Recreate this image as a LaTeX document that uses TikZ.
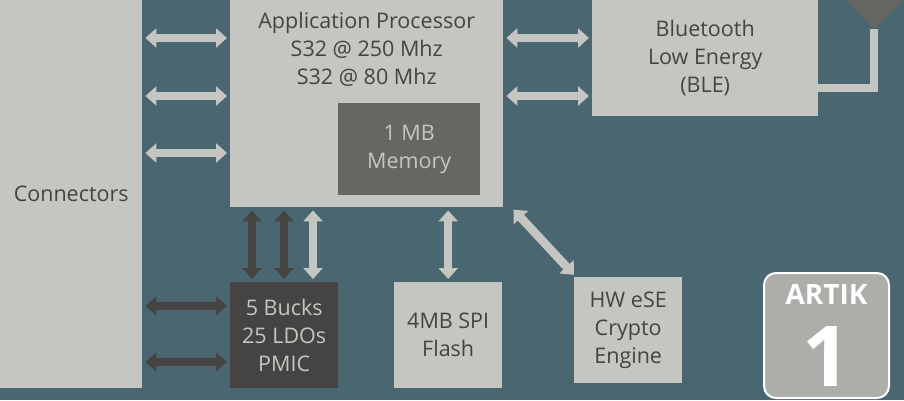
\documentclass[tikz,border=0pt]{standalone}
\usepackage{fontspec}
\setmainfont{Open Sans}
\usetikzlibrary{arrows.meta}
\definecolor{bgc}{HTML}{4A6670}
\definecolor{lgc}{HTML}{C5C5C1}
\definecolor{mgc}{HTML}{666663}
\definecolor{dgc}{HTML}{454443}
\definecolor{logoc}{HTML}{ADADA9}
\begin{document}
\begin{tikzpicture}[x=1pt, y=-1pt,
    box/.style = {fill=lgc, text=dgc, inner sep=0pt, align=center, anchor=north west, font=\fontsize{21.5}{28}\selectfont},
    dbox/.style = {box, fill=dgc, text=lgc},
    arr/.style = {{Triangle[width=19pt,length=11pt]}-{Triangle[width=19pt,length=11pt]}, line width=8.5pt, color=lgc, shorten <=3pt, shorten >=3pt},
    darr/.style = {arr, color=dgc}]
    \fill[bgc] (0,0) rectangle (904,400);
    \node[box, minimum width=142, minimum height=388] (conn) at (0,0) {Connectors};
    \node[box, minimum width=273, minimum height=207] (ap) at (230,0) {};
    \node[box, fill=none, anchor=north] (aptext) at ([yshift=-12]ap.north) {Application Processor\\S32 @ 250 Mhz\\S32 @ 80 Mhz};
    \node[box, fill=mgc, text=lgc, minimum width=142, minimum height=92] (mem) at (338,103) {1 MB\\Memory};
    \node[box, minimum width=226, minimum height=116] (ble) at (592,0) {Bluetooth\\Low Energy\\(BLE)};
    \node[dbox, minimum width=108, minimum height=106] (pmic) at (230,282) {5 Bucks\\25 LDOs\\PMIC};
    \node[box, minimum width=108, minimum height=106] (flash) at (394,282) {4MB SPI\\Flash};
    \node[box, minimum width=108, minimum height=106] (hse) at (574,277) {HW eSE\\Crypto\\Engine};
    % antenna
    \coordinate (ant) at (874,29);
    \draw[lgc, line width=8pt] (ant) |- ([yshift=-88]ble.north east);
    \fill[mgc] (846,0) -- (903,0) -- (ant) -- cycle;
    % connectors
    \foreach \y in {38,96,153}
        \draw[arr] ([yshift=-\y]conn.north east) -- ([yshift=-\y]ap.north west);
    \foreach \y in {24,80}
        \draw[darr] ([yshift=-\y]conn.north east |- pmic.north) -- ([yshift=-\y]pmic.north west);
    \foreach \y in {38,96}
        \draw[arr] ([yshift=-\y]ap.north east) -- ([yshift=-\y]ble.north west);
    \foreach \x in {22,54}
        \draw[darr] ([xshift=\x]ap.south west) -- ([xshift=\x]pmic.north west);
    \draw[arr] ([xshift=83]ap.south west) -- ([xshift=83]pmic.north west);
    \draw[arr] (flash.north |- ap.south) -- (flash.north);
    \draw[arr] ([xshift=8]ap.south east) -- ([xshift=2]hse.north west);
    % logo
    \node[draw=white, line width=2pt, fill=logoc, rounded corners=12pt, minimum width=125, minimum height=125, anchor=north west, inner sep=0pt] (logo) at (763,272) {};
    \node[text=white, font=\fontsize{28}{28}\selectfont\bfseries, anchor=north, inner sep=0pt] (artik) at ([yshift=-12]logo.north) {ARTIK};
    \node[text=white, font=\fontsize{84}{84}\selectfont\bfseries, anchor=base, inner sep=0pt] (one) at ([yshift=13]logo.south) {1};
\end{tikzpicture}
\end{document}
